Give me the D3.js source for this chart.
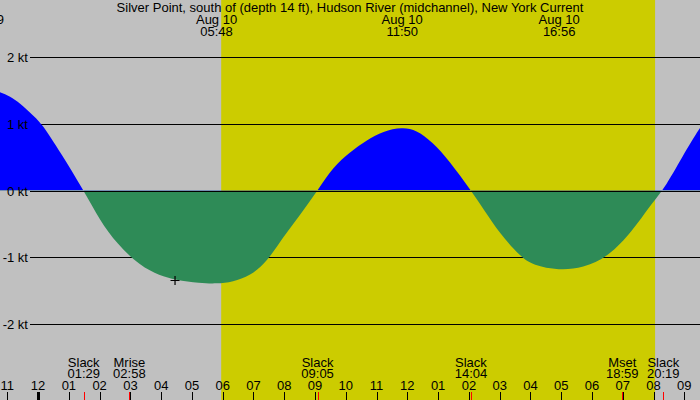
<!DOCTYPE html>
<html lang="en">
<head>
    <meta charset="UTF-8">
    <title>Silver Point current</title>
    <script src="https://d3js.org/d3.v7.min.js"></script>
    <style>
        body { margin: 0; background: #c0c0c0; }
        svg { display: block; }
        text { font-family: 'Liberation Sans', Arial, sans-serif; font-size: 13px; fill: #000; }
    </style>
</head>
<body>
    <svg width="700" height="400"></svg>

    <script>
        // hours since midnight Aug 10 (negative = Aug 09), speed in knots
        const curveHours = [-1.6, -1.24, -0.91, -0.59, -0.17, 0.13, 0.71, 1.483,
            2.01, 2.56, 3.31, 3.96, 4.45, 5.26, 5.8, 6.33, 6.89, 7.44, 7.96, 8.51, 9.083,
            9.58, 10.14, 10.69, 11.21, 11.833, 12.29, 12.81, 13.36, 14.067,
            14.46, 15.01, 15.69, 16.08, 16.933, 17.71, 18.52, 19.33, 19.89, 20.317,
            20.96, 21.51, 21.8];
        const curveKnots = [1.52, 1.48, 1.41, 1.31, 1.13, 1.00, 0.58, 0,
            -0.45, -0.80, -1.13, -1.28, -1.34, -1.39, -1.40, -1.37, -1.28, -1.07, -0.70, -0.37, 0,
            0.35, 0.58, 0.76, 0.89, 0.95, 0.91, 0.73, 0.45, 0,
            -0.27, -0.65, -1.00, -1.12, -1.20, -1.16, -1.00, -0.60, -0.22, 0,
            0.53, 0.95, 1.12];

        const topDates = ["Aug 09", "Aug 10", "Aug 10", "Aug 10"];
        const topTimes = ["22:13", "05:48", "11:50", "16:56"];
        const topHours = [-1.78, 5.8, 11.833, 16.933];

        const eventNames = ["Slack", "Mrise", "Slack", "Slack", "Mset", "Slack"];
        const eventTimes = ["01:29", "02:58", "09:05", "14:04", "18:59", "20:19"];
        const eventHours = [1.483, 2.967, 9.083, 14.067, 18.983, 20.317];

        const hourTicks = d3.range(-1, 22);
        const hourLabels = ["11", "12", "01", "02", "03", "04", "05", "06", "07", "08", "09", "10",
            "11", "12", "01", "02", "03", "04", "05", "06", "07", "08", "09"];

        const sunrise = 5.95, sunset = 20.05;
        const ktTicks = [2, 1, 0, -1, -2];
        const marker = [4.45, -1.35];

        const title = "Silver Point, south of (depth 14 ft), Hudson River (midchannel), New York Current";

        const width = 700, height = 400;
        const svg = d3.select("svg");

        const x = d3.scaleLinear().domain([-1.238, 21.51]).range([0, width]);
        const y = d3.scaleLinear().domain([2, -2]).range([57.2, 323.8]);

        // daylight band
        svg.append("rect")
            .attr("x", x(sunrise)).attr("y", 0)
            .attr("width", x(sunset) - x(sunrise)).attr("height", height)
            .attr("fill", "#cccc00");

        // kt grid lines
        svg.selectAll(".grid")
            .data(ktTicks)
            .join("line")
            .attr("x1", 30).attr("x2", width)
            .attr("y1", d => Math.round(y(d)) + 0.5).attr("y2", d => Math.round(y(d)) + 0.5)
            .attr("stroke", "#000");

        const pts = curveHours.map((h, i) => [h, curveKnots[i]]);
        const area = d3.area()
            .x(d => x(d[0]))
            .y0(y(0))
            .y1(d => y(d[1]))
            .curve(d3.curveBasis);

        const defs = svg.append("defs");
        defs.append("clipPath").attr("id", "above")
            .append("rect").attr("x", 0).attr("y", 0).attr("width", width).attr("height", y(0));
        defs.append("clipPath").attr("id", "below")
            .append("rect").attr("x", 0).attr("y", y(0)).attr("width", width).attr("height", height - y(0));

        svg.append("path").datum(pts)
            .attr("d", area).attr("fill", "#0000ff").attr("clip-path", "url(#above)");
        svg.append("path").datum(pts)
            .attr("d", area).attr("fill", "#2e8b57").attr("clip-path", "url(#below)");

        // zero line on top
        svg.append("line")
            .attr("x1", 30).attr("x2", width)
            .attr("y1", Math.round(y(0)) + 0.5).attr("y2", Math.round(y(0)) + 0.5)
            .attr("stroke", "#000");

        svg.selectAll(".kt")
            .data(ktTicks)
            .join("text")
            .attr("x", 28).attr("y", d => y(d) + 5)
            .attr("text-anchor", "end")
            .text(d => d + " kt");

        // "+" marker
        const mx = x(marker[0]), my = y(marker[1]);
        svg.append("path")
            .attr("d", `M${mx - 4.5},${my}H${mx + 4.5}M${mx},${my - 4.5}V${my + 4.5}`)
            .attr("stroke", "#000").attr("stroke-width", 1.2);

        // title and max current labels
        svg.append("text").attr("x", width / 2).attr("y", 12)
            .attr("text-anchor", "middle").text(title);
        const maxLabels = svg.selectAll(".maxlab").data(topHours).join("g");
        maxLabels.append("text").attr("x", d => x(d)).attr("y", 24)
            .attr("text-anchor", "middle").text((d, i) => topDates[i]);
        maxLabels.append("text").attr("x", d => x(d)).attr("y", 36)
            .attr("text-anchor", "middle").text((d, i) => topTimes[i]);

        // hour axis
        svg.selectAll(".htick")
            .data(hourTicks)
            .join("line")
            .attr("x1", d => Math.round(x(d)) + 0.5).attr("x2", d => Math.round(x(d)) + 0.5)
            .attr("y1", 392).attr("y2", height)
            .attr("stroke", "#000")
            .attr("stroke-width", d => d === 0 ? 3 : 1);
        svg.selectAll(".hlabel")
            .data(hourTicks)
            .join("text")
            .attr("x", d => x(d)).attr("y", 390)
            .attr("text-anchor", "middle")
            .text((d, i) => hourLabels[i]);

        // slack / moon events
        svg.selectAll(".etick")
            .data(eventHours)
            .join("line")
            .attr("x1", d => Math.round(x(d)) + 0.5).attr("x2", d => Math.round(x(d)) + 0.5)
            .attr("y1", 392).attr("y2", height)
            .attr("stroke", "#ff0000");
        const ev = svg.selectAll(".ev").data(eventHours).join("g");
        ev.append("text").attr("x", d => x(d)).attr("y", 367)
            .attr("text-anchor", "middle").text((d, i) => eventNames[i]);
        ev.append("text").attr("x", d => x(d)).attr("y", 378)
            .attr("text-anchor", "middle").text((d, i) => eventTimes[i]);
    </script>
</body>
</html>
